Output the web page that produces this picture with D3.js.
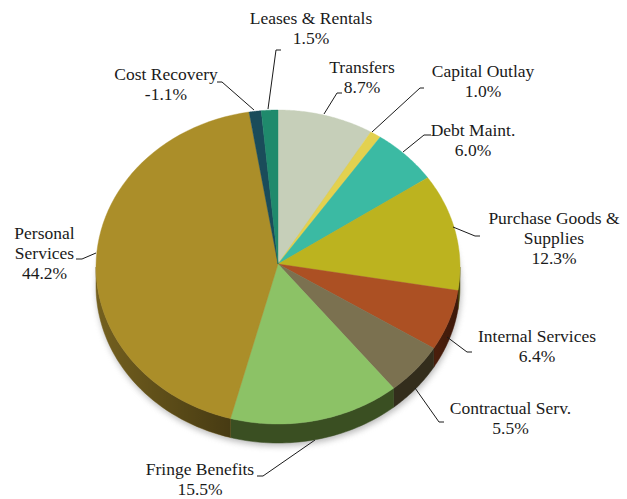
<!DOCTYPE html>
<html><head><meta charset="utf-8"><script src="https://cdn.jsdelivr.net/npm/d3@7"></script>
<style>html,body{margin:0;background:#fff}svg{display:block}text{font-family:"Liberation Serif",serif;font-size:17.5px;fill:#1a1a1a;text-anchor:middle}</style></head>
<body><svg width="627" height="499"></svg>
<script>
const categories=["Transfers","Capital Outlay","Debt Maint.","Purchase Goods & Supplies","Internal Services","Contractual Serv.","Fringe Benefits","Personal Services","Cost Recovery","Leases & Rentals"];
const labels=["8.7%","1.0%","6.0%","12.3%","6.4%","5.5%","15.5%","44.2%","-1.1%","1.5%"];
const values=[8.7,1.0,6.0,12.3,6.4,5.5,15.5,44.2,1.1,1.5];
const topColors=["#c6cfb9","#e3d14f","#3bbaa3","#bcb31f","#ac5023","#7b7150","#8cc266","#ab8e29","#1a4c5a","#1f8a6c"];
const sideColors=["#6a6e5f","#77702a","#1d5e52","#5f5a10","#4c1f0c","#332d1c","#3a4f22","#7a6520","#0d262d","#104536"];
const labelLines=[["Transfers","8.7%"],["Capital Outlay","1.0%"],["Debt Maint.","6.0%"],["Purchase Goods &","Supplies","12.3%"],["Internal Services","6.4%"],["Contractual Serv.","5.5%"],["Fringe Benefits","15.5%"],["Personal","Services","44.2%"],["Cost Recovery","-1.1%"],["Leases & Rentals","1.5%"]];
const labelAnchors=[[362,73],[483,77],[473,136],[554,224],[537,342],[510.5,413.5],[200,475],[44.5,239],[166,80],[311,24]];
const leaders=[[[324,114],[337,93],[342,93]],[[372,132],[420,88],[424,88]],[[403,152],[424,135],[431,135]],[[453,227],[475,236],[480,236]],[[447,337],[467,352],[472,352]],[[415,388],[439,422],[444,422]],[[315,440],[263,476],[257,476]],[[96,253],[82,259],[76,259]],[[254,110],[222,82],[217,82]],[[268,109],[276,50],[281,50]]];

const cx=278,cy=267,apexY=264,rx=182,ry=157,depth=19;
const svg=d3.select("svg");
const defs=svg.append("defs");
const blur=defs.append("filter").attr("id","soft").attr("x","-10%").attr("y","-10%").attr("width","120%").attr("height","130%");
blur.append("feGaussianBlur").attr("stdDeviation",3);

const arcs=d3.pie().sort(null).value(d=>d)(values);
const x=a=>cx+rx*Math.sin(a), y=a=>cy-ry*Math.cos(a);
const line=d3.line();
const wall=(a0,a1)=>{
  const s=Math.max(a0,Math.PI/2),e=Math.min(a1,Math.PI*1.5);
  if(e<=s) return null;
  const ang=d3.range(0,41).map(i=>s+(e-s)*i/40);
  return line([...ang.map(a=>[x(a),y(a)]),...ang.slice().reverse().map(a=>[x(a),y(a)+depth])])+"Z";
};
const slice=d=>{
  const ang=d3.range(0,61).map(i=>d.startAngle+(d.endAngle-d.startAngle)*i/60);
  return line([[cx,apexY],...ang.map(a=>[x(a),y(a)])])+"Z";
};
// darkening along the largest wall and at the far right of the rim
const wallShadeLeft=defs.append("linearGradient").attr("id","shadeLeft");
[[0,.05],[1,.42]].forEach(s=>wallShadeLeft.append("stop").attr("offset",s[0]).attr("stop-color","#000").attr("stop-opacity",s[1]));
const wallShadeRight=defs.append("linearGradient").attr("id","shadeRight");
[[0,0],[.6,0],[1,.22]].forEach(s=>wallShadeRight.append("stop").attr("offset",s[0]).attr("stop-color","#000").attr("stop-opacity",s[1]));
// soft shadow under the disc
svg.append("path").attr("d",line(d3.range(0,121).map(i=>{const a=i/120*2*Math.PI;return [x(a)+1,y(a)+depth+3]}))+"Z").attr("fill","#8a8a8a").attr("opacity",.6).attr("filter","url(#soft)");
// walls
svg.append("g").selectAll("path").data(arcs.filter(d=>wall(d.startAngle,d.endAngle))).join("path")
  .attr("d",d=>wall(d.startAngle,d.endAngle)).attr("fill",d=>sideColors[d.index]).attr("stroke",d=>sideColors[d.index]).attr("stroke-width",.5);
svg.append("path").attr("d",wall(arcs[7].startAngle,arcs[7].endAngle)).attr("fill","url(#shadeLeft)");
svg.append("path").attr("d",wall(Math.PI/2,arcs[6].startAngle)).attr("fill","url(#shadeRight)");
// top surface
svg.append("g").selectAll("path").data(arcs).join("path").attr("d",slice).attr("fill",d=>topColors[d.index]).attr("stroke",d=>topColors[d.index]).attr("stroke-width",.4);
// leaders
svg.append("g").selectAll("path").data(leaders).join("path").attr("d",d=>line(d)).attr("fill","none").attr("stroke","#1a1a1a").attr("stroke-width",1);
// labels
labelLines.forEach((ls,i)=>{
  const t=svg.append("text");
  ls.forEach((l,j)=>t.append("tspan").attr("x",labelAnchors[i][0]).attr("y",labelAnchors[i][1]+j*20.2).text(l));
});
</script></body></html>
